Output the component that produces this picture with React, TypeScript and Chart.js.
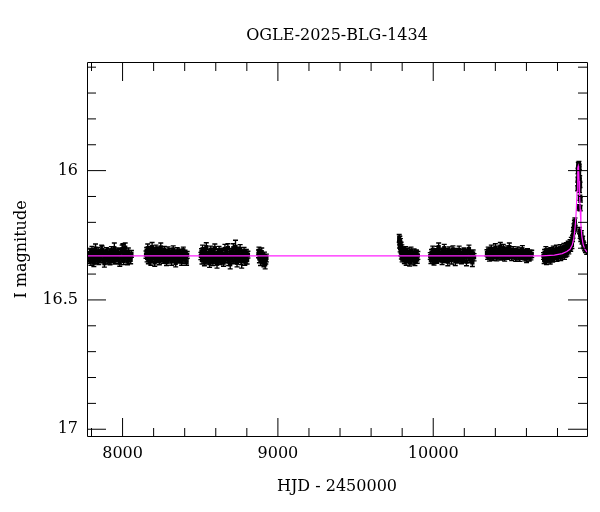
import React, { useEffect, useRef } from 'react';
import { Chart, registerables } from 'chart.js';

Chart.register(...registerables);

const TITLE = 'OGLE-2025-BLG-1434';
const X_LABEL = 'HJD - 2450000';
const Y_LABEL = 'I magnitude';
const FONT = 'DejaVu Serif';

const X_MIN = 7771;
const X_MAX = 10990;
const Y_MIN = 15.58;
const Y_MAX = 17.03;

const xMajorTicks = [8000, 9000, 10000];
const xMinorTicks = [7800, 8000, 8200, 8400, 8600, 8800, 9000, 9200, 9400, 9600, 9800, 10000, 10200, 10400, 10600, 10800];
const yMajorTicks = [16, 16.5, 17];
const yMinorTicks = [15.6, 15.7, 15.8, 15.9, 16, 16.1, 16.2, 16.3, 16.4, 16.5, 16.6, 16.7, 16.8, 16.9, 17];

// [HJD-2450000, I mag, error]
type Obs = [number, number, number];

const season1: Obs[] = [
  [7781, 16.33, 0.014], [7785, 16.345, 0.013], [7789, 16.318, 0.015], [7792, 16.336, 0.012], [7796, 16.352, 0.014],
  [7800, 16.322, 0.013], [7803, 16.309, 0.016], [7807, 16.34, 0.012], [7811, 16.328, 0.014], [7815, 16.356, 0.015],
  [7818, 16.315, 0.013], [7822, 16.333, 0.012], [7826, 16.302, 0.018], [7830, 16.347, 0.013], [7834, 16.325, 0.014],
  [7838, 16.338, 0.012], [7843, 16.312, 0.015], [7847, 16.35, 0.013], [7851, 16.329, 0.014], [7856, 16.341, 0.012],
  [7860, 16.318, 0.013], [7865, 16.31, 0.022], [7869, 16.306, 0.014], [7874, 16.344, 0.012], [7878, 16.327, 0.013],
  [7883, 16.358, 0.015], [7887, 16.32, 0.012], [7892, 16.333, 0.014], [7896, 16.311, 0.013], [7901, 16.346, 0.015],
  [7905, 16.325, 0.012], [7910, 16.339, 0.014], [7914, 16.316, 0.013], [7919, 16.352, 0.012], [7924, 16.33, 0.016],
  [7928, 16.308, 0.014], [7933, 16.342, 0.013], [7938, 16.322, 0.012], [7943, 16.336, 0.015], [7947, 16.3, 0.02],
  [7952, 16.348, 0.013], [7957, 16.319, 0.012], [7962, 16.334, 0.014], [7967, 16.312, 0.013], [7972, 16.345, 0.015],
  [7977, 16.327, 0.012], [7982, 16.356, 0.014], [7987, 16.317, 0.013], [7992, 16.338, 0.012], [7997, 16.304, 0.016],
  [8002, 16.305, 0.022], [8007, 16.349, 0.014], [8012, 16.32, 0.012], [8017, 16.298, 0.018], [8022, 16.337, 0.013],
  [8027, 16.325, 0.015], [8032, 16.352, 0.012], [8037, 16.313, 0.014], [8042, 16.34, 0.013], [8047, 16.328, 0.012],
  [8052, 16.345, 0.015], [8057, 16.322, 0.013],
];

const season2: Obs[] = [
  [8151, 16.325, 0.014], [8155, 16.31, 0.013], [8158, 16.338, 0.015], [8162, 16.3, 0.016], [8166, 16.347, 0.013],
  [8170, 16.322, 0.012], [8174, 16.333, 0.014], [8178, 16.306, 0.013], [8182, 16.351, 0.015], [8186, 16.318, 0.012],
  [8190, 16.296, 0.018], [8194, 16.34, 0.013], [8198, 16.326, 0.014], [8203, 16.312, 0.012], [8207, 16.355, 0.015],
  [8211, 16.33, 0.013], [8215, 16.302, 0.014], [8220, 16.343, 0.012], [8224, 16.319, 0.013], [8228, 16.336, 0.016],
  [8233, 16.308, 0.013], [8237, 16.35, 0.014], [8242, 16.324, 0.012], [8246, 16.297, 0.017], [8251, 16.338, 0.013],
  [8255, 16.315, 0.014], [8260, 16.346, 0.012], [8264, 16.328, 0.015], [8269, 16.306, 0.013], [8273, 16.341, 0.012],
  [8278, 16.32, 0.014], [8283, 16.354, 0.013], [8287, 16.331, 0.012], [8292, 16.31, 0.015], [8297, 16.344, 0.013],
  [8301, 16.325, 0.014], [8306, 16.337, 0.012], [8311, 16.314, 0.013], [8316, 16.35, 0.016], [8321, 16.327, 0.012],
  [8326, 16.305, 0.014], [8331, 16.342, 0.013], [8336, 16.32, 0.012], [8342, 16.357, 0.015], [8347, 16.332, 0.013],
  [8352, 16.312, 0.014], [8358, 16.345, 0.012], [8363, 16.323, 0.013], [8369, 16.338, 0.015], [8374, 16.316, 0.012],
  [8380, 16.352, 0.014], [8385, 16.329, 0.013], [8391, 16.308, 0.012], [8396, 16.343, 0.015], [8402, 16.321, 0.013],
  [8407, 16.336, 0.014], [8412, 16.354, 0.012], [8416, 16.326, 0.013],
];

const season3: Obs[] = [
  [8504, 16.33, 0.014], [8508, 16.315, 0.013], [8511, 16.346, 0.015], [8515, 16.304, 0.016], [8519, 16.338, 0.013],
  [8523, 16.322, 0.012], [8527, 16.354, 0.014], [8531, 16.311, 0.013], [8535, 16.336, 0.015], [8539, 16.296, 0.017],
  [8543, 16.348, 0.013], [8547, 16.325, 0.012], [8551, 16.34, 0.014], [8555, 16.317, 0.013], [8560, 16.358, 0.016],
  [8564, 16.331, 0.012], [8568, 16.306, 0.014], [8572, 16.344, 0.013], [8577, 16.322, 0.012], [8581, 16.352, 0.015],
  [8585, 16.314, 0.013], [8590, 16.337, 0.014], [8594, 16.3, 0.016], [8599, 16.347, 0.012], [8603, 16.327, 0.013],
  [8608, 16.36, 0.017], [8612, 16.318, 0.014], [8617, 16.339, 0.012], [8621, 16.308, 0.015], [8626, 16.35, 0.013],
  [8631, 16.328, 0.014], [8635, 16.312, 0.012], [8640, 16.345, 0.013], [8645, 16.321, 0.016], [8650, 16.356, 0.014],
  [8654, 16.333, 0.012], [8659, 16.303, 0.018], [8664, 16.343, 0.013], [8669, 16.319, 0.014], [8674, 16.337, 0.012],
  [8678, 16.299, 0.016], [8683, 16.352, 0.015], [8688, 16.326, 0.013], [8693, 16.362, 0.018], [8698, 16.313, 0.012],
  [8703, 16.34, 0.014], [8708, 16.324, 0.013], [8713, 16.3, 0.017], [8718, 16.348, 0.012], [8723, 16.318, 0.014],
  [8727, 16.295, 0.026], [8732, 16.336, 0.013], [8737, 16.356, 0.016], [8742, 16.31, 0.014], [8747, 16.342, 0.012],
  [8752, 16.327, 0.013], [8757, 16.303, 0.017], [8762, 16.349, 0.014], [8767, 16.345, 0.032], [8772, 16.32, 0.013],
  [8777, 16.338, 0.012], [8782, 16.312, 0.015], [8787, 16.352, 0.014], [8792, 16.33, 0.013], [8797, 16.317, 0.012],
  [8802, 16.346, 0.015], [8807, 16.325, 0.013],
];

const season4: Obs[] = [
  [8875, 16.322, 0.015], [8878, 16.31, 0.014], [8881, 16.34, 0.016], [8884, 16.326, 0.015], [8888, 16.35, 0.017],
  [8892, 16.335, 0.014], [8896, 16.315, 0.016], [8900, 16.345, 0.015], [8905, 16.34, 0.018], [8910, 16.356, 0.016],
  [8914, 16.33, 0.015], [8918, 16.362, 0.018], [8922, 16.345, 0.016], [8926, 16.338, 0.015],
];

const season5: Obs[] = [
  [9781, 16.262, 0.015], [9783, 16.285, 0.014], [9785, 16.27, 0.016], [9787, 16.3, 0.014], [9789, 16.278, 0.015],
  [9791, 16.315, 0.014], [9793, 16.29, 0.013], [9795, 16.328, 0.014], [9798, 16.302, 0.015], [9800, 16.34, 0.013],
  [9803, 16.312, 0.014], [9806, 16.333, 0.013], [9810, 16.318, 0.015], [9814, 16.345, 0.014], [9818, 16.325, 0.013],
  [9822, 16.308, 0.014], [9826, 16.35, 0.016], [9830, 16.33, 0.013], [9834, 16.314, 0.014], [9838, 16.342, 0.013],
  [9843, 16.322, 0.015], [9848, 16.355, 0.014], [9852, 16.335, 0.013], [9857, 16.31, 0.014], [9862, 16.346, 0.015],
  [9867, 16.326, 0.013], [9872, 16.34, 0.014], [9877, 16.316, 0.013], [9882, 16.352, 0.015], [9887, 16.331, 0.014],
  [9892, 16.32, 0.013], [9897, 16.344, 0.014], [9901, 16.328, 0.015],
];

const season6: Obs[] = [
  [9981, 16.33, 0.013], [9985, 16.345, 0.014], [9989, 16.318, 0.013], [9993, 16.338, 0.015], [9997, 16.306, 0.014],
  [10001, 16.327, 0.012], [10005, 16.35, 0.015], [10009, 16.315, 0.013], [10013, 16.334, 0.012], [10018, 16.322, 0.014],
  [10022, 16.345, 0.013], [10026, 16.308, 0.015], [10030, 16.331, 0.012], [10035, 16.296, 0.016], [10039, 16.34, 0.013],
  [10044, 16.318, 0.014], [10048, 16.336, 0.012], [10053, 16.325, 0.013], [10057, 16.348, 0.015], [10062, 16.312, 0.012],
  [10066, 16.329, 0.014], [10071, 16.3, 0.015], [10075, 16.342, 0.013], [10080, 16.32, 0.012], [10085, 16.337, 0.014],
  [10089, 16.314, 0.013], [10094, 16.352, 0.016], [10099, 16.326, 0.012], [10103, 16.309, 0.014], [10108, 16.339, 0.013],
  [10113, 16.317, 0.012], [10118, 16.346, 0.015], [10122, 16.328, 0.013], [10127, 16.305, 0.014], [10132, 16.334, 0.012],
  [10137, 16.321, 0.013], [10142, 16.35, 0.017], [10147, 16.313, 0.012], [10152, 16.338, 0.014], [10157, 16.324, 0.013],
  [10162, 16.345, 0.012], [10167, 16.307, 0.015], [10172, 16.332, 0.013], [10177, 16.319, 0.014], [10182, 16.348, 0.012],
  [10188, 16.326, 0.013], [10193, 16.34, 0.015], [10198, 16.311, 0.012], [10203, 16.336, 0.014], [10209, 16.322, 0.013],
  [10214, 16.352, 0.016], [10219, 16.316, 0.012], [10225, 16.333, 0.014], [10230, 16.303, 0.015], [10236, 16.343, 0.013],
  [10241, 16.325, 0.012], [10247, 16.338, 0.014], [10252, 16.355, 0.016], [10257, 16.32, 0.013], [10263, 16.335, 0.014],
];

const season7: Obs[] = [
  [10346, 16.318, 0.012], [10350, 16.33, 0.013], [10354, 16.308, 0.012], [10358, 16.325, 0.014], [10362, 16.338, 0.012],
  [10366, 16.314, 0.013], [10370, 16.327, 0.012], [10374, 16.302, 0.014], [10378, 16.332, 0.013], [10383, 16.319, 0.012],
  [10387, 16.335, 0.013], [10391, 16.31, 0.012], [10396, 16.326, 0.014], [10400, 16.298, 0.015], [10405, 16.32, 0.012],
  [10409, 16.336, 0.013], [10414, 16.312, 0.012], [10418, 16.328, 0.014], [10423, 16.305, 0.013], [10427, 16.322, 0.012],
  [10432, 16.294, 0.016], [10437, 16.333, 0.013], [10441, 16.316, 0.012], [10446, 16.329, 0.014], [10451, 16.3, 0.015],
  [10455, 16.324, 0.012], [10460, 16.337, 0.013], [10465, 16.311, 0.012], [10470, 16.326, 0.014], [10475, 16.304, 0.013],
  [10480, 16.331, 0.012], [10485, 16.318, 0.013], [10490, 16.296, 0.016], [10495, 16.328, 0.012], [10500, 16.314, 0.013],
  [10505, 16.334, 0.014], [10510, 16.32, 0.012], [10515, 16.307, 0.013], [10520, 16.33, 0.012], [10526, 16.316, 0.014],
  [10531, 16.338, 0.013], [10536, 16.322, 0.012], [10541, 16.309, 0.014], [10547, 16.332, 0.013], [10552, 16.318, 0.012],
  [10557, 16.336, 0.015], [10563, 16.312, 0.013], [10568, 16.327, 0.012], [10574, 16.304, 0.014], [10579, 16.33, 0.013],
  [10585, 16.317, 0.012], [10590, 16.335, 0.014], [10596, 16.321, 0.013], [10601, 16.34, 0.015], [10607, 16.314, 0.012],
  [10612, 16.328, 0.013], [10618, 16.336, 0.014], [10623, 16.319, 0.012], [10629, 16.332, 0.013], [10634, 16.322, 0.014],
];

const season8: Obs[] = [
  [10710, 16.33, 0.013], [10714, 16.345, 0.014], [10717, 16.318, 0.013], [10721, 16.338, 0.015], [10725, 16.308, 0.014],
  [10729, 16.35, 0.013], [10733, 16.325, 0.012], [10737, 16.34, 0.014], [10741, 16.314, 0.013], [10745, 16.334, 0.012],
  [10749, 16.322, 0.015], [10753, 16.348, 0.013], [10757, 16.31, 0.012], [10761, 16.331, 0.014], [10765, 16.319, 0.013],
  [10769, 16.342, 0.012], [10773, 16.306, 0.014], [10777, 16.328, 0.013], [10781, 16.336, 0.015], [10785, 16.315, 0.012],
  [10789, 16.33, 0.013], [10793, 16.302, 0.014], [10797, 16.338, 0.013], [10801, 16.32, 0.012], [10805, 16.333, 0.014],
  [10809, 16.31, 0.013], [10813, 16.327, 0.012], [10817, 16.3, 0.014], [10821, 16.335, 0.013], [10825, 16.316, 0.012],
  [10829, 16.328, 0.014], [10833, 16.305, 0.013], [10837, 16.322, 0.012], [10841, 16.296, 0.014], [10845, 16.33, 0.013],
  [10849, 16.312, 0.012], [10853, 16.32, 0.014], [10857, 16.292, 0.013], [10861, 16.318, 0.012], [10865, 16.302, 0.014],
  [10869, 16.286, 0.013], [10873, 16.31, 0.012], [10877, 16.296, 0.014], [10881, 16.28, 0.013], [10885, 16.3, 0.012],
  [10889, 16.272, 0.014], [10893, 16.288, 0.013],
];

const eventPoints: Obs[] = [
  [10897, 16.262, 0.012], [10900, 16.248, 0.013], [10903, 16.232, 0.012], [10906, 16.218, 0.012], [10909, 16.205, 0.013],
  [10912, 16.195, 0.012], [10914, 16.225, 0.012],
  [10930, 16.068, 0.01], [10931, 16.035, 0.01], [10932, 16.002, 0.01], [10933, 16.05, 0.01], [10934, 15.978, 0.01],
  [10935, 16.02, 0.01], [10936, 15.99, 0.01], [10937, 16.06, 0.01], [10938, 15.975, 0.01], [10939, 16.01, 0.01],
  [10940, 16.04, 0.01], [10941, 15.985, 0.01], [10942, 16.075, 0.01], [10943, 16.03, 0.01], [10945, 16.055, 0.01],
  [10936, 16.142, 0.01], [10946, 16.145, 0.01], [10944, 16.105, 0.01], [10948, 16.112, 0.01],
  [10942, 16.232, 0.012], [10946, 16.25, 0.012], [10950, 16.262, 0.012], [10954, 16.244, 0.012], [10958, 16.272, 0.012],
  [10962, 16.266, 0.012], [10966, 16.284, 0.012], [10970, 16.29, 0.012], [10975, 16.298, 0.012], [10980, 16.305, 0.012],
  [10985, 16.302, 0.012], [10988, 16.312, 0.012],
];

const modelHjd = [7771, 10700, 10780, 10830, 10860, 10880, 10895, 10905, 10912, 10918, 10922, 10926, 10929, 10932, 10934, 10936, 10939, 10942, 10946, 10951, 10957, 10965, 10975, 10990];
const modelMag = [16.33, 16.33, 16.327, 16.321, 16.313, 16.304, 16.288, 16.262, 16.228, 16.185, 16.14, 16.08, 16.03, 15.99, 15.982, 15.99, 16.04, 16.09, 16.15, 16.21, 16.255, 16.285, 16.302, 16.315];

const allSeasons: Obs[][] = [season1, season2, season3, season4, season5, season6, season7, season8, eventPoints];

const errorBarPlugin = {
  id: 'errorBars',
  beforeDatasetsDraw(chart: any) {
    const { ctx, chartArea, scales } = chart;
    const xs = scales.x;
    const ys = scales.y;
    const ds = chart.data.datasets[1];
    ctx.save();
    ctx.beginPath();
    ctx.rect(chartArea.left, chartArea.top, chartArea.right - chartArea.left, chartArea.bottom - chartArea.top);
    ctx.clip();
    ctx.strokeStyle = '#000';
    ctx.lineWidth = 1.4;
    ctx.beginPath();
    for (const p of ds.data as any[]) {
      const px = xs.getPixelForValue(p.x);
      const y1 = ys.getPixelForValue(p.y - p.e);
      const y2 = ys.getPixelForValue(p.y + p.e);
      ctx.moveTo(px, y1);
      ctx.lineTo(px, y2);
      ctx.moveTo(px - 2.5, y1);
      ctx.lineTo(px + 2.5, y1);
      ctx.moveTo(px - 2.5, y2);
      ctx.lineTo(px + 2.5, y2);
    }
    ctx.stroke();
    ctx.restore();
  },
};

const framePlugin = {
  id: 'frameTicks',
  afterDatasetsDraw(chart: any) {
    const { ctx, chartArea, scales } = chart;
    const { left, right, top, bottom } = chartArea;
    const xs = scales.x;
    const ys = scales.y;
    ctx.save();
    ctx.strokeStyle = '#000';
    ctx.lineWidth = 1;
    ctx.beginPath();
    for (const v of xMinorTicks) {
      const px = xs.getPixelForValue(v);
      const len = xMajorTicks.includes(v) ? 19 : 9;
      ctx.moveTo(px, bottom);
      ctx.lineTo(px, bottom - len);
      ctx.moveTo(px, top);
      ctx.lineTo(px, top + len);
    }
    for (const v of yMinorTicks) {
      const py = ys.getPixelForValue(v);
      const len = yMajorTicks.includes(v) ? 19 : 9;
      ctx.moveTo(left, py);
      ctx.lineTo(left + len, py);
      ctx.moveTo(right, py);
      ctx.lineTo(right - len, py);
    }
    ctx.stroke();
    ctx.beginPath();
    ctx.rect(left + 0.5, top + 0.5, right - left, bottom - top - 1);
    ctx.stroke();
    ctx.restore();
  },
};

export default function App() {
  const canvasRef = useRef<HTMLCanvasElement | null>(null);

  useEffect(() => {
    if (!canvasRef.current) return;
    const obs = allSeasons.flat().map(([t, m, e]) => ({ x: t, y: m, e }));
    const model = modelHjd.map((t, i) => ({ x: t, y: modelMag[i] }));

    const chart = new Chart(canvasRef.current, {
      type: 'scatter',
      data: {
        datasets: [
          {
            label: 'model',
            data: model,
            showLine: true,
            borderColor: '#ff22ff',
            borderWidth: 1.2,
            pointRadius: 0,
            fill: false,
            tension: 0,
            order: 0,
          },
          {
            label: 'OGLE',
            data: obs,
            pointStyle: 'rect',
            pointRadius: 3,
            pointBackgroundColor: '#000',
            pointBorderWidth: 0,
            backgroundColor: '#000',
            borderColor: '#000',
            order: 1,
          },
        ],
      } as any,
      options: {
        animation: false,
        responsive: false,
        devicePixelRatio: 1,
        layout: { padding: { left: 0, right: 13, top: 0, bottom: 0 } },
        plugins: {
          legend: { display: false },
          tooltip: { enabled: false },
          title: {
            display: true,
            fullSize: false,
            text: TITLE,
            color: '#000',
            font: { family: FONT, size: 16, weight: 'normal' },
            padding: { top: 26, bottom: 16.8 },
          },
        },
        scales: {
          x: {
            type: 'linear',
            min: X_MIN,
            max: X_MAX,
            grid: { display: false, drawTicks: false },
            border: { display: false },
            afterBuildTicks: (scale: any) => {
              scale.ticks = xMinorTicks.map((v) => ({ value: v }));
            },
            afterFit: (scale: any) => {
              scale.height = 75;
            },
            ticks: {
              autoSkip: false,
              maxRotation: 0,
              padding: 7,
              color: '#000',
              font: { family: FONT, size: 16 },
              callback: (v: any) => (xMajorTicks.includes(Number(v)) ? String(v) : ''),
            },
            title: {
              display: true,
              text: X_LABEL,
              color: '#000',
              font: { family: FONT, size: 16 },
              padding: { top: 0, bottom: 16 },
            },
          },
          y: {
            type: 'linear',
            reverse: true,
            min: Y_MIN,
            max: Y_MAX,
            grid: { display: false, drawTicks: false },
            border: { display: false },
            afterBuildTicks: (scale: any) => {
              scale.ticks = yMinorTicks.map((v) => ({ value: v }));
            },
            afterFit: (scale: any) => {
              scale.width = 87;
            },
            ticks: {
              autoSkip: false,
              padding: 9,
              color: '#000',
              font: { family: FONT, size: 16 },
              callback: (v: any) => (yMajorTicks.includes(Number(v)) ? String(v) : ''),
            },
            title: {
              display: true,
              text: Y_LABEL,
              color: '#000',
              font: { family: FONT, size: 16 },
              padding: { top: 12, bottom: 0 },
            },
          },
        },
      } as any,
      plugins: [errorBarPlugin, framePlugin],
    });

    return () => chart.destroy();
  }, []);

  return (
    <div style={{ position: 'fixed', left: 0, top: 0, width: 600, height: 512, background: '#fff' }}>
      <canvas ref={canvasRef} width={600} height={512} style={{ width: 600, height: 512, display: 'block' }} />
    </div>
  );
}
